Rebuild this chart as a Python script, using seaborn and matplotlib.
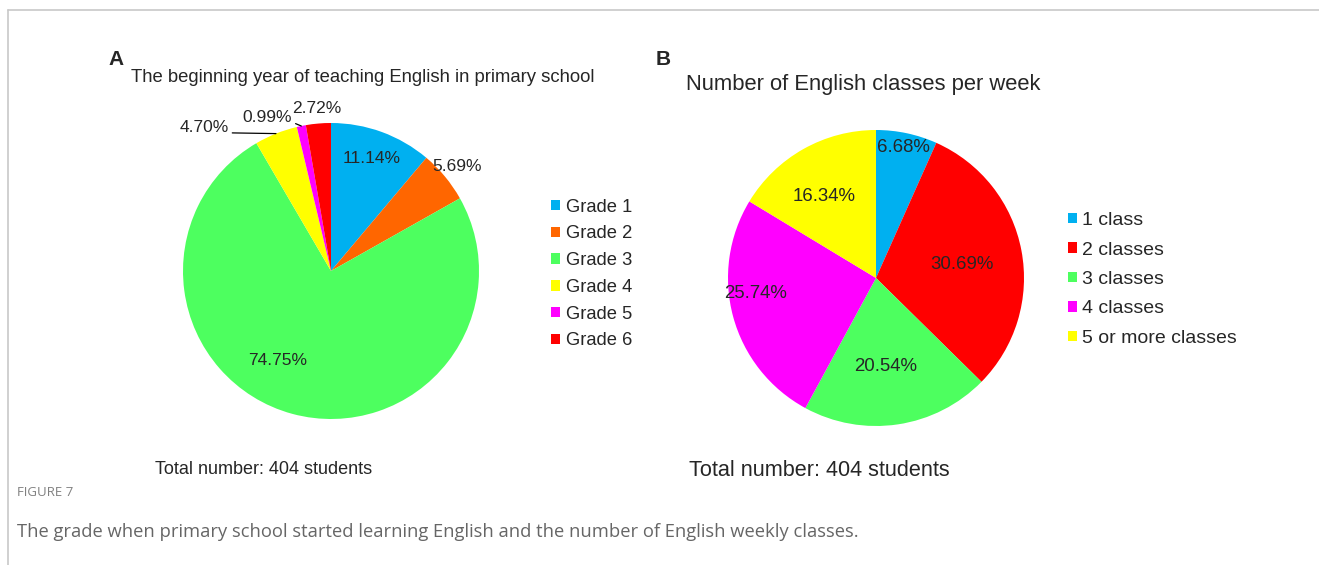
import numpy as np
import matplotlib
matplotlib.use("Agg")
import matplotlib.pyplot as plt
from matplotlib.lines import Line2D
from matplotlib.patches import Patch
import seaborn as sns

# ---------------- data ----------------
grades = ["Grade 1", "Grade 2", "Grade 3", "Grade 4", "Grade 5", "Grade 6"]
grade_pct = [11.14, 5.69, 74.75, 4.70, 0.99, 2.72]
grade_colors = ["#00B0F0", "#FF6600", "#4DFF5F", "#FFFF00", "#FF00FF", "#FF0000"]

classes = ["1 class", "2 classes", "3 classes", "4 classes", "5 or more classes"]
class_pct = [6.68, 30.69, 20.54, 25.74, 16.34]
class_colors = ["#00B0F0", "#FF0000", "#4DFF5F", "#FF00FF", "#FFFF00"]

title_a = "The beginning year of teaching English in primary school"
title_b = "Number of English classes per week"
total_text = "Total number: 404 students"
fig_label = "FIGURE 7"
caption = ("The grade when primary school started learning English and the "
           "number of English weekly classes.")

# label placement styles (radial distance, angle offset in deg); None -> leader line
lab_a = [(0.81, 0), (1.11, 0), (0.70, -15.6), None, None, (1.10, 0)]
leader_a = {3: (-47, 6), 4: (-9, 9)}
lab_b = [(0.90, 0), (0.59, -2), (0.605, -2), (0.82, -8), (0.656, 3)]

sns.set_theme(style="white")
plt.rcParams["font.family"] = ["Liberation Sans", "DejaVu Sans"]

W, H = 1319, 565
fig = plt.figure(figsize=(W / 100, H / 100), dpi=100)
fig.patch.set_facecolor("white")


def px_axes(cx, cy, r):
    half = 1.5 * r
    return fig.add_axes([(cx - half) / W, (H - cy - half) / H, 2 * half / W, 2 * half / H])


def draw_pie(ax, vals, cols, lab, fs, leaders=None):
    wedges, _ = ax.pie(vals, colors=cols, startangle=90, counterclock=False,
                       radius=1, wedgeprops=dict(linewidth=0))
    ax.set_xlim(-1.5, 1.5)
    ax.set_ylim(-1.5, 1.5)
    ax.set_aspect("equal")
    ax.axis("off")
    for i, (w, v) in enumerate(zip(wedges, vals)):
        mid = np.deg2rad((w.theta1 + w.theta2) / 2)
        txt = f"{v:.2f}%"
        if lab[i] is None:
            dx, dy = leaders[i]
            ex, ey = np.cos(mid), np.sin(mid)
            ax.annotate(txt, xy=(ex, ey), xytext=(dx, dy), textcoords="offset pixels",
                        ha="right", va="center", fontsize=fs,
                        arrowprops=dict(arrowstyle="-", color="black", lw=0.9,
                                        relpos=(1.0, 0.15), shrinkA=0, shrinkB=0))
        else:
            r, off = lab[i]
            a = mid + np.deg2rad(off)
            ax.text(r * np.cos(a), r * np.sin(a), txt, ha="center", va="center",
                    fontsize=fs)
    return wedges


# Pie A
axA = px_axes(331, 271, 148)
wa = draw_pie(axA, grade_pct, grade_colors, lab_a, 12.5, leader_a)

# Pie B
axB = px_axes(876, 278, 148)
wb = draw_pie(axB, class_pct, class_colors, lab_b, 13.4)

# Legends
hA = [Patch(facecolor=c, edgecolor="none") for c in grade_colors]
fig.legend(hA, grades, loc="center left", bbox_to_anchor=(551 / W, 1 - 274 / H),
           frameon=False, fontsize=13.2, borderpad=0, borderaxespad=0,
           handlelength=0.5, handleheight=0.5, handletextpad=0.33,
           labelspacing=0.53)
hB = [Patch(facecolor=c, edgecolor="none") for c in class_colors]
fig.legend(hB, classes, loc="center left", bbox_to_anchor=(1068 / W, 1 - 279.5 / H),
           frameon=False, fontsize=14, borderpad=0, borderaxespad=0,
           handlelength=0.46, handleheight=0.46, handletextpad=0.27,
           labelspacing=0.64)

# Titles & notes
fig.text(108 / W, 1 - 60 / H, "A", fontsize=15, fontweight="bold", ha="left", va="center")
fig.text(656 / W, 1 - 60 / H, "B", fontsize=15, fontweight="bold", ha="left", va="center")
fig.text(362.5 / W, 1 - 77 / H, title_a, fontsize=13.3, ha="center", va="center")
fig.text(686 / W, 1 - 84 / H, title_b, fontsize=15.8, ha="left", va="center")
fig.text(264 / W, 1 - 470 / H, total_text, fontsize=13, ha="center", va="center")
fig.text(819 / W, 1 - 470 / H, total_text, fontsize=15.6, ha="center", va="center")

# Caption
fig.text(17 / W, 1 - 492 / H, fig_label, fontsize=9.5, color="#808080",
         ha="left", va="center", family=["Open Sans", "DejaVu Sans"])
fig.text(17 / W, 1 - 532 / H, caption, fontsize=13.2, color="#666666",
         ha="left", va="center", family=["Open Sans", "DejaVu Sans"])

# Frame lines
fig.add_artist(Line2D([8 / W, 1], [1 - 10 / H, 1 - 10 / H], transform=fig.transFigure,
                      color="#c8c8c8", lw=1.2))
fig.add_artist(Line2D([8 / W, 8 / W], [0, 1 - 10 / H], transform=fig.transFigure,
                      color="#c8c8c8", lw=1.2))

fig.savefig("out.png", dpi=100)
